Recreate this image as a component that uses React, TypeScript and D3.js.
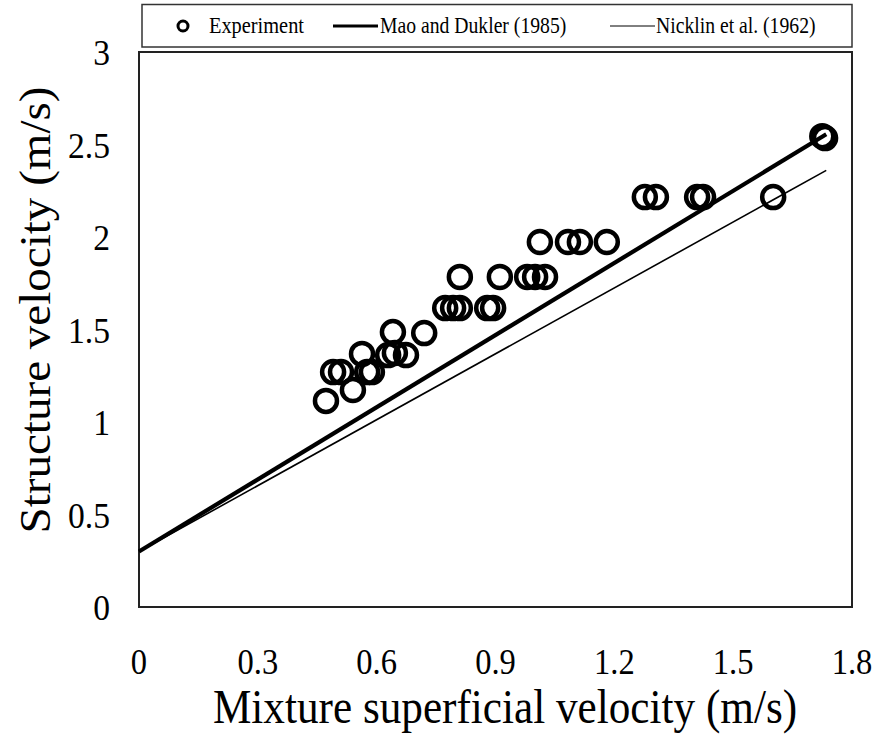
import React from "react";
import * as d3 from "d3";

// Experimental data (mixture superficial velocity, structure velocity)
const expX = [0.472, 0.49, 0.51, 0.576, 0.588, 0.54, 0.563, 0.629, 0.646, 0.674, 0.641, 0.72, 0.773, 0.793, 0.81, 0.81, 0.879, 0.894, 0.911, 0.98, 1.0, 1.025, 1.012, 1.083, 1.113, 1.181, 1.277, 1.305, 1.409, 1.424, 1.601, 1.732, 1.725];
const expY = [1.114, 1.27, 1.27, 1.27, 1.27, 1.173, 1.368, 1.362, 1.373, 1.362, 1.486, 1.481, 1.616, 1.616, 1.616, 1.784, 1.616, 1.616, 1.784, 1.784, 1.784, 1.784, 1.973, 1.973, 1.973, 1.973, 2.216, 2.216, 2.216, 2.216, 2.216, 2.535, 2.545];

// Correlation lines
const maoX = [0, 1.735];
const maoY = [0.3, 2.555];
const nicklinX = [0, 1.735];
const nicklinY = [0.3, 2.36];

const xTicks = [0, 0.3, 0.6, 0.9, 1.2, 1.5, 1.8];
const yTicks = [0, 0.5, 1, 1.5, 2, 2.5, 3];

const legendLabels = ["Experiment", "Mao and Dukler (1985)", "Nicklin et al. (1962)"];

function T(props: { x: number; y: number; size: number; sx?: number; sy?: number; anchor?: string; rotate?: number; children: any }) {
  const { x, y, size, sx = 1, sy = 1, anchor = "start", rotate = 0, children } = props;
  return (
    <g transform={`translate(${x},${y}) rotate(${rotate}) scale(${sx},${sy})`}>
      <text x={0} y={0} fontSize={size} textAnchor={anchor}>{children}</text>
    </g>
  );
}

export default function App() {
  const W = 878, H = 738;
  const left = 139, right = 852, top = 52, bottom = 607;
  const x = d3.scaleLinear().domain([0, 1.8]).range([left, right]);
  const y = d3.scaleLinear().domain([0, 3]).range([bottom, top]);
  const line = d3.line<number>().x((d) => x(d[0])).y((d) => y(d[1]));
  const mao = maoX.map((v, i) => [v, maoY[i]]);
  const nick = nicklinX.map((v, i) => [v, nicklinY[i]]);
  const font = "'Liberation Serif', 'Times New Roman', serif";
  return (
    <svg width={W} height={H} style={{ position: "absolute", left: 0, top: 0, background: "#fff" }} fontFamily={font}>
      <rect x={0} y={0} width={W} height={H} fill="#fff" />
      {/* legend */}
      <rect x={142} y={4.5} width={710} height={42.5} fill="#fff" stroke="#333" strokeWidth={1.5} />
      <circle cx={183} cy={26} r={5} fill="none" stroke="#000" strokeWidth={3} />
      <T x={209} y={33} size={21} sx={0.97} sy={1.05}>{legendLabels[0]}</T>
      <line x1={333} x2={378} y1={26} y2={26} stroke="#000" strokeWidth={3} />
      <T x={380} y={33} size={20.5} sx={0.96} sy={1.08}>{legendLabels[1]}</T>
      <line x1={610} x2={655} y1={26} y2={26} stroke="#000" strokeWidth={1} />
      <T x={656} y={33} size={20.5} sx={0.96} sy={1.08}>{legendLabels[2]}</T>

      {/* frame */}
      <rect x={left} y={top} width={right - left} height={bottom - top} fill="none" stroke="#222" strokeWidth={2} />

      {/* lines */}
      <path d={line(nick as any) || ""} fill="none" stroke="#000" strokeWidth={1.6} />
      <path d={line(mao as any) || ""} fill="none" stroke="#000" strokeWidth={4.2} />

      {/* points */}
      {expX.map((v, i) => (
        <circle key={i} cx={x(v)} cy={y(expY[i])} r={11} fill="none" stroke="#000" strokeWidth={4.5} />
      ))}

      {/* x ticks */}
      {xTicks.map((t) => (
        <T key={"x" + t} x={x(t)} y={674} size={35} sx={0.93} sy={1.05} anchor="middle">{String(t)}</T>
      ))}
      {/* y ticks */}
      {yTicks.map((t) => (
        <T key={"y" + t} x={110} y={y(t) + 13} size={35} sx={0.96} sy={1.05} anchor="end">{String(t)}</T>
      ))}
      <T x={505} y={723} size={48} sx={0.9} anchor="middle">Mixture superficial velocity (m/s)</T>
      <T x={50} y={310} size={44} sx={1.07} rotate={-90} anchor="middle">Structure velocity (m/s)</T>
    </svg>
  );
}
